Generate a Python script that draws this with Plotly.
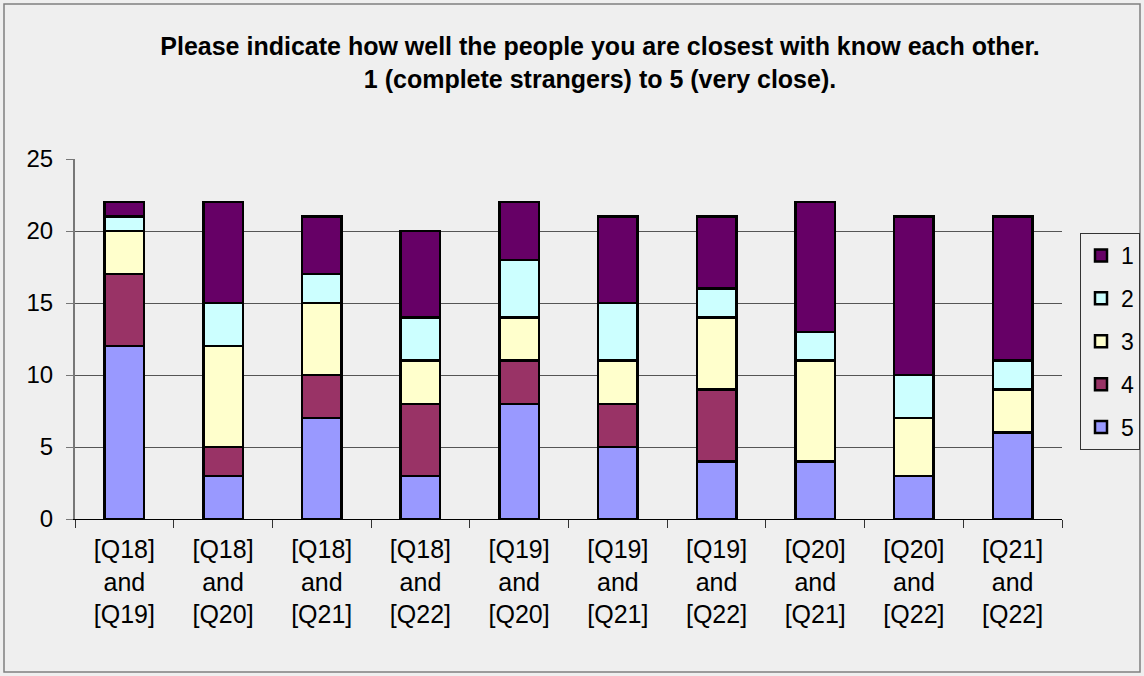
import plotly.graph_objects as go

categories = ["[Q18]<br>and<br>[Q19]", "[Q18]<br>and<br>[Q20]", "[Q18]<br>and<br>[Q21]",
              "[Q18]<br>and<br>[Q22]", "[Q19]<br>and<br>[Q20]", "[Q19]<br>and<br>[Q21]",
              "[Q19]<br>and<br>[Q22]", "[Q20]<br>and<br>[Q21]", "[Q20]<br>and<br>[Q22]",
              "[Q21]<br>and<br>[Q22]"]
s5 = [12, 3, 7, 3, 8, 5, 4, 4, 3, 6]
s4 = [5, 2, 3, 5, 3, 3, 5, 0, 0, 0]
s3 = [3, 7, 5, 3, 3, 3, 5, 7, 4, 3]
s2 = [1, 3, 2, 3, 4, 4, 2, 2, 3, 2]
s1 = [1, 7, 4, 6, 4, 6, 5, 9, 11, 10]

series = [("5", s5, "#9999FF"), ("4", s4, "#993366"), ("3", s3, "#FFFFCC"),
          ("2", s2, "#CCFFFF"), ("1", s1, "#660066")]

fig = go.Figure()
for name, vals, col in series:
    fig.add_trace(go.Bar(x=categories, y=vals, name=name, legendgroup=name,
                         legendrank=int(name),
                         marker=dict(color=col, line=dict(color="black", width=2.5))))

W, H = 1144, 676
L, R, T, B = 75, 82, 159, 157
pw, ph = W - L - R, H - T - B

fig.update_layout(
    width=W, height=H,
    barmode="stack", bargap=0.6,
    paper_bgcolor="#EFEFEF", plot_bgcolor="#EFEFEF",
    margin=dict(l=L, r=R, t=T, b=B, autoexpand=False),
    font=dict(family="Liberation Sans, Arial, sans-serif", size=24, color="black"),
    title=dict(text="<b>Please indicate how well the people you are closest with know each other.</b><br><b>1 (complete strangers) to 5 (very close).</b>",
               x=600 / W, xanchor="center", y=1 - 55 / H, yanchor="top",
               font=dict(family="Liberation Sans, Arial, sans-serif", size=25, color="black")),
    showlegend=True,
    legend=dict(traceorder="grouped", xref="container", yref="container",
                x=1080 / W, xanchor="left", y=1 - 233 / H, yanchor="top",
                bordercolor="#333333", borderwidth=1, bgcolor="#EFEFEF",
                font=dict(size=23), itemwidth=30, tracegroupgap=10),
    xaxis=dict(showline=True, linecolor="black", linewidth=1, ticks="outside", tickson="boundaries",
               ticklen=8, tickcolor="#333333", showgrid=False, tickfont=dict(size=25),
               ticklabelstandoff=8, automargin=False),
    yaxis=dict(range=[0, 25], dtick=5, showline=True, linecolor="#777777", linewidth=2,
               ticks="outside", ticklen=7, tickcolor="#777777",
               showgrid=True, gridcolor="#555555", gridwidth=1, zeroline=False,
               tickfont=dict(size=24), ticklabelstandoff=8, automargin=False),
    shapes=[dict(type="rect", xref="paper", yref="paper",
                 x0=(4 - L) / pw, x1=(1140 - L) / pw,
                 y0=1 + (T - 4) / ph, y1=-(672 - T - ph) / ph,
                 line=dict(color="#808080", width=1.5), layer="below")],
)

fig.write_html("out.html")
